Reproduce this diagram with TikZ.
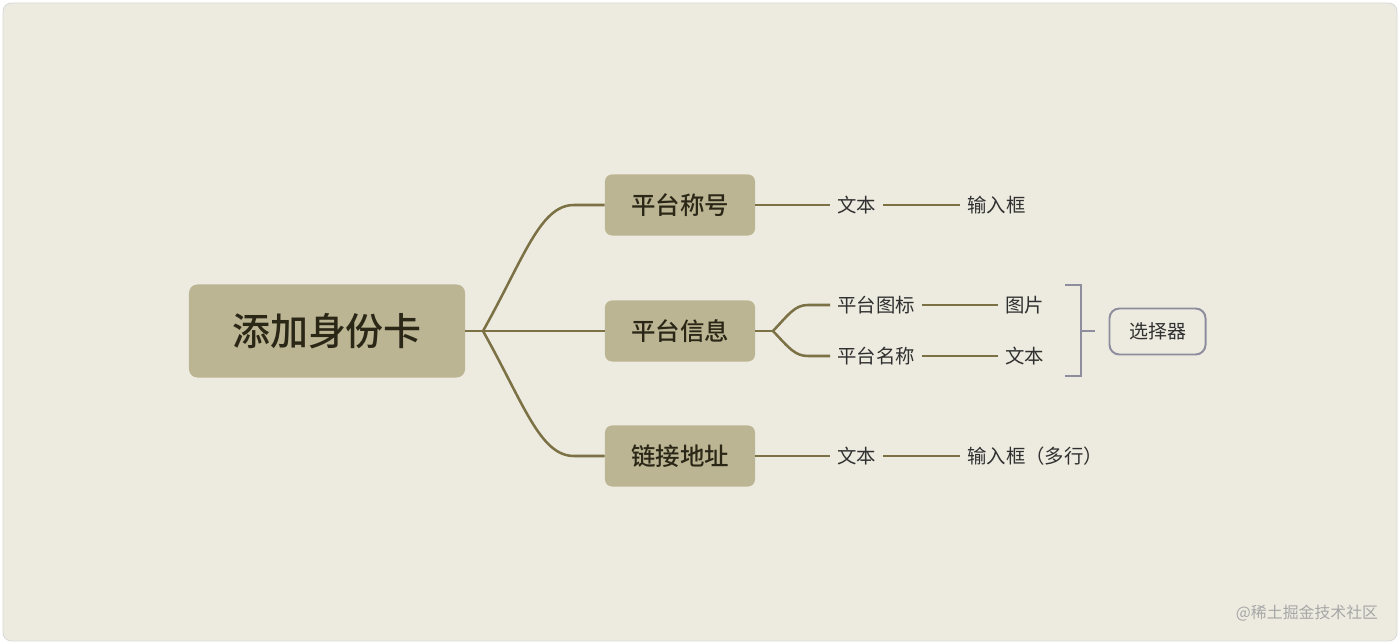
\documentclass[tikz,border=0pt]{standalone}
\usepackage{fontspec}
\setmainfont{Noto Sans CJK SC}
\newfontfamily\medfont{Noto Sans CJK SC Medium}
\usetikzlibrary{calc,positioning}
\definecolor{bgpaper}{HTML}{EDEBE0}
\definecolor{boxfill}{HTML}{BCB594}
\definecolor{branch}{HTML}{7B7145}
\definecolor{boxtext}{HTML}{2B2717}
\definecolor{leaftext}{HTML}{303030}
\definecolor{selgray}{HTML}{8E8D9E}
\tikzset{
  rootbox/.style  = {rounded corners=6pt, fill=boxfill, draw=none,
                     minimum width=6.9cm, minimum height=2.325cm,
                     font=\fontsize{27}{30}\medfont, text=boxtext},
  subbox/.style   = {rounded corners=5pt, fill=boxfill, draw=none,
                     minimum width=3.75cm, minimum height=1.525cm,
                     font=\fontsize{17.4}{20}\medfont, text=boxtext},
  leaf/.style     = {anchor=west, inner xsep=5pt, inner ysep=2pt,
                     font=\fontsize{13.8}{16}\selectfont, text=leaftext},
  conn/.style     = {draw=branch, line width=1.8pt},
  selbox/.style   = {rounded corners=7pt, draw=selgray, line width=1.4pt,
                     minimum width=2.4cm, minimum height=1.15cm,
                     font=\fontsize{13.5}{16}\selectfont, text=leaftext},
  bracket/.style  = {draw=selgray, line width=1.4pt},
}
\begin{document}
\begin{tikzpicture}[x=0.025cm,y=0.025cm]
  % page and paper
  \fill[white] (0,0) rectangle (1400,644);
  \draw[rounded corners=6pt, fill=bgpaper, draw=black!15, line width=0.6pt]
    (3,3) rectangle (1397,641);
  \useasboundingbox (0,0) rectangle (1400,644);

  % boxes
  \node[rootbox] (root) at (327,313) {添加身份卡};
  \node[subbox] (title) at (680,439) {平台称号};
  \node[subbox] (info)  at (680,313) {平台信息};
  \node[subbox] (link)  at (680,188) {链接地址};

  % leaves
  \node[leaf] (titletype) at (830,439) {文本};
  \node[leaf] (titleui)   at (960,439) {输入框};
  \node[leaf] (icon)      at (830,339) {平台图标};
  \node[leaf] (iconui)    at (998,339) {图片};
  \node[leaf] (name)      at (830,288) {平台名称};
  \node[leaf] (nameui)    at (998,288) {文本};
  \node[leaf] (linktype)  at (830,188) {文本};
  \node[leaf] (linkui)    at (960,188) {输入框（多行）};

  \node[selbox] (picker) at (1157.5,312.5) {选择器};

  % branches
  \coordinate (hub)  at (483,313);
  \coordinate (fork) at (773,313);
  \draw[conn] (root.east) -- (hub) -- (info.west);
  \draw[conn] (hub) .. controls (524,386) and (540,439) .. (574,439) -- (title.west);
  \draw[conn] (hub) .. controls (524,240) and (540,188) .. (574,188) -- (link.west);
  \draw[conn] (info.east) -- (fork);
  \draw[conn] (fork) .. controls (789,330) and (795,339) .. (808,339) -- (icon.west);
  \draw[conn] (fork) .. controls (789,296) and (795,288) .. (808,288) -- (name.west);
  \draw[conn] (title.east) -- (titletype.west);
  \draw[conn] (titletype.east) -- (titleui.west);
  \draw[conn] (icon.east) -- (iconui.west);
  \draw[conn] (name.east) -- (nameui.west);
  \draw[conn] (link.east) -- (linktype.west);
  \draw[conn] (linktype.east) -- (linkui.west);

  % bracket
  \coordinate (brtop) at (1065,359);
  \coordinate (brbot) at (1065,268);
  \coordinate (brmid) at (1081,313);
  \coordinate (brtip) at (1095,313);
  \draw[bracket] (brtop) -- (1081,359) -- (1081,268) -- (brbot);
  \draw[bracket] (brmid) -- (brtip);

  % watermark
  \node[font=\fontsize{11.3}{13}\selectfont, text=black!35] (mark) at (1307,31)
    {@稀土掘金技术社区};
\end{tikzpicture}
\end{document}
